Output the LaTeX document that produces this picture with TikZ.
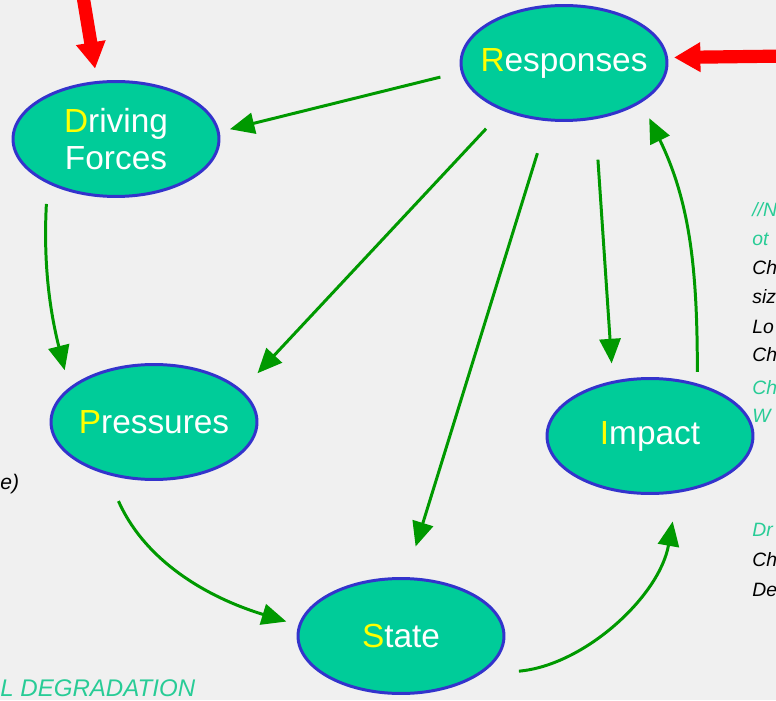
\documentclass[tikz,border=0pt]{standalone}
\usepackage{fontspec}
\setmainfont{Liberation Sans}
\usetikzlibrary{arrows.meta}
\usetikzlibrary{shapes.geometric}
\definecolor{pagegrey}{RGB}{240,240,240}
\definecolor{stagefill}{RGB}{0,204,153}
\definecolor{stageline}{RGB}{51,51,204}
\definecolor{flowgreen}{RGB}{0,153,0}
\definecolor{initial}{RGB}{255,255,0}
\definecolor{notegreen}{RGB}{40,204,150}
\newcommand{\stagetext}[2]{\makebox[0pt]{\textcolor{initial}{#1}#2}}
\tikzset{
      stage/.style={ellipse, draw=stageline, fill=stagefill, line width=1.7pt,
            minimum width=4.12cm, minimum height=2.3cm, inner sep=0pt,
            text=white, align=center, font=\fontsize{19}{21}\selectfont},
      flow/.style={draw=flowgreen, line width=1.7pt, -{Triangle[length=14pt,width=12pt]}},
      push/.style={draw=red, line width=7.5pt, -{Triangle[length=15pt,width=16pt]}},
      edgenote/.style={anchor=west, inner sep=0pt, text=notegreen,
            font=\fontsize{11}{13}\selectfont\itshape},
      edgenoteblack/.style={edgenote, text=black},
}
\begin{document}
\begin{tikzpicture}[x=0.02cm, y=0.02cm]
        % 
        \fill[pagegrey] (0,0) rectangle (776,700);
        \useasboundingbox (0,0) rectangle (776,700);
        \clip (0,0) rectangle (776,700);

        % Draw the five stages
        \node[stage] (driving) at (116,561) {\stagetext{D}{riving}\\\makebox[0pt]{Forces}};
        \node[stage] (responses) at (564,637) {\stagetext{R}{esponses}};
        \node[stage] (pressures) at (154,278) {\stagetext{P}{ressures}};
        \node[stage] (impact) at (650,264) {\stagetext{I}{mpact}};
        \node[stage] (state) at (401,64) {\stagetext{S}{tate}};

        % Draw the inputs from outside
        \coordinate (drivingsrc) at (82,710);
        \coordinate (responsesrc) at (790,644);
        \draw[push, shorten >=0.25cm] (drivingsrc) -- (driving.108.5);
        \draw[push, shorten >=0.12cm] (responsesrc) -- (responses.3.9);

        % Draw the links
        \draw[flow, shorten <=0.42cm, shorten >=0.21cm] (responses.185.7) -- (driving.4.8);
        \draw[flow, shorten <=0.49cm, shorten >=0.46cm] (responses.218.6) -- (pressures.20.8);
        \draw[flow, shorten <=0.67cm, shorten >=0.64cm] (responses.254.3) -- (state.85.5);
        \draw[flow, shorten <=0.81cm, shorten >=0.35cm] (responses.299.7) -- (impact.124.4);
        \draw[flow, shorten <=0.23cm, shorten >=0.35cm] (impact.48.2) to[out=90, in=-64] (responses.333.7);
        \draw[flow, shorten <=0.41cm, shorten >=0.36cm] (driving.213.2) to[out=-93, in=104] (pressures.158.9);
        \draw[flow, shorten <=0.58cm, shorten >=0.25cm] (pressures.228.4) to[out=-66, in=163] (state.174.1);
        \draw[flow, shorten <=0.78cm, shorten >=0.58cm] (state.334.5) to[out=5, in=-100] (impact.296);

        % Draw the cut text at the edges
        \node[edgenote] (n1) at (752,490) {//N};
        \node[edgenote] (n2) at (752,461) {ot};
        \node[edgenoteblack] (n3) at (752,432) {Ch};
        \node[edgenoteblack] (n4) at (752,403) {siz};
        \node[edgenoteblack] (n5) at (752,373) {Lo};
        \node[edgenoteblack] (n6) at (752,345) {Ch};
        \node[edgenote] (n7) at (752,312) {Ch};
        \node[edgenote] (n8) at (752,284) {W};
        \node[edgenote] (n9) at (752,170) {Dr};
        \node[edgenoteblack] (n10) at (752,140) {Ch};
        \node[edgenoteblack] (n11) at (752,110) {De};
        \node[edgenoteblack, font=\fontsize{12}{14}\selectfont\itshape] (n12) at (0,216) {e)};
        \node[edgenote, font=\fontsize{13.7}{15}\selectfont\itshape] (n13) at (0,12) {L DEGRADATION};

    \end{tikzpicture}
\end{document}
